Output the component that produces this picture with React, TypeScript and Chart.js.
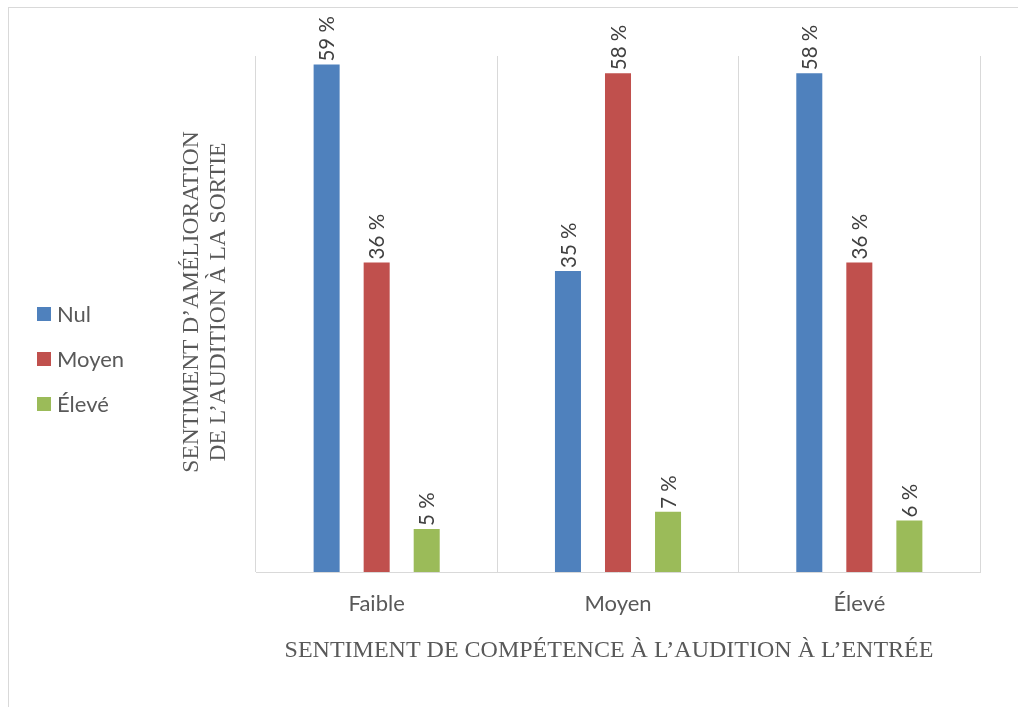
import React, { useEffect, useRef } from "react";
import { Chart, registerables } from "chart.js";

Chart.register(...registerables);

const categories = ["Faible", "Moyen", "Élevé"];
const seriesNames = ["Nul", "Moyen", "Élevé"];
const nulValues = [59, 35, 58];
const moyenValues = [36, 58, 36];
const eleveValues = [5, 7, 6];
const seriesColors = ["#4F81BD", "#C0504D", "#9BBB59"];
const yTitleLines = ["SENTIMENT D’AMÉLIORATION", "DE L’AUDITION À LA SORTIE"];
const xTitle = "SENTIMENT DE COMPÉTENCE À L’AUDITION À L’ENTRÉE";

const SANS = "Lato, 'Open Sans', sans-serif";
const SERIF = "'Liberation Serif', 'DejaVu Serif', serif";
const TEXT = "#595959";

const overlayPlugin = {
  id: "overlay",
  afterDatasetsDraw(chart: any) {
    const ctx = chart.ctx as CanvasRenderingContext2D;
    const area = chart.chartArea;
    // data labels
    chart.data.datasets.forEach((ds: any, di: number) => {
      const meta = chart.getDatasetMeta(di);
      meta.data.forEach((el: any, i: number) => {
        ctx.save();
        ctx.translate(el.x, el.y - 3);
        ctx.rotate(-Math.PI / 2);
        ctx.font = `20.5px ${SANS}`;
        ctx.fillStyle = "#404040";
        ctx.textAlign = "left";
        ctx.textBaseline = "middle";
        ctx.fillText(`${ds.data[i]} %`, 0, 1);
        ctx.restore();
      });
    });
    // legend
    chart.data.datasets.forEach((ds: any, di: number) => {
      const cy = 314 + di * 45;
      ctx.save();
      ctx.fillStyle = ds.backgroundColor;
      ctx.fillRect(37, cy - 7, 14, 14);
      ctx.font = `22px ${SANS}`;
      ctx.fillStyle = TEXT;
      ctx.textAlign = "left";
      ctx.textBaseline = "middle";
      ctx.fillText(ds.label, 57, cy + 1);
      ctx.restore();
    });
    // y title
    ctx.save();
    ctx.translate(area.left, 302);
    ctx.rotate(-Math.PI / 2);
    ctx.font = `23.5px ${SERIF}`;
    ctx.fillStyle = TEXT;
    ctx.textAlign = "center";
    ctx.textBaseline = "alphabetic";
    ctx.fillText(yTitleLines[0], 0, -58);
    ctx.fillText(yTitleLines[1], 0, -31);
    ctx.restore();
    // x title
    ctx.save();
    ctx.font = `24px ${SERIF}`;
    ctx.fillStyle = TEXT;
    ctx.textAlign = "center";
    ctx.textBaseline = "alphabetic";
    ctx.fillText(xTitle, 609, 657);
    ctx.restore();
  },
};

export default function App() {
  const ref = useRef<HTMLCanvasElement | null>(null);
  useEffect(() => {
    document.body.style.overflow = "hidden";
    const canvas = ref.current!;
    const chart = new Chart(canvas, {
      type: "bar",
      data: {
        labels: categories,
        datasets: [
          { label: seriesNames[0], data: nulValues, backgroundColor: seriesColors[0] },
          { label: seriesNames[1], data: moyenValues, backgroundColor: seriesColors[1] },
          { label: seriesNames[2], data: eleveValues, backgroundColor: seriesColors[2] },
        ],
      },
      options: {
        responsive: false,
        animation: false,
        devicePixelRatio: 1,
        layout: { padding: { left: 256, top: 56, right: 38, bottom: 35 } },
        datasets: { bar: { categoryPercentage: 0.622, barPercentage: 0.52 } },
        plugins: { legend: { display: false }, tooltip: { enabled: false }, title: { display: false } },
        scales: {
          x: {
            afterFit: (scale: any) => {
              scale.height = 100;
            },
            grid: { display: true, offset: true, color: "#D9D9D9", drawTicks: false, lineWidth: 1 },
            border: { display: true, color: "#D9D9D9" },
            ticks: { color: TEXT, font: { family: SANS, size: 22 }, padding: 19 },
          },
          y: {
            display: false,
            min: 0,
            max: 60,
          },
        },
      },
      plugins: [overlayPlugin],
    } as any);
    return () => chart.destroy();
  }, []);
  return (
    <>
      <div
        style={{
          position: "fixed",
          left: 8,
          top: 7,
          width: 1010,
          height: 700,
          borderTop: "1px solid #D9D9D9",
          borderLeft: "1px solid #D9D9D9",
        }}
      />
      <canvas
        ref={ref}
        width={1018}
        height={707}
        style={{ position: "fixed", left: 0, top: 0, width: 1018, height: 707 }}
      />
    </>
  );
}
